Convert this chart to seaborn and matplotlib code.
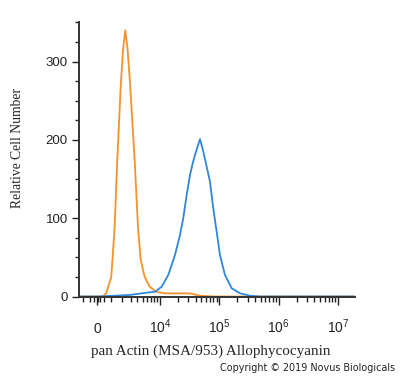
import numpy as np
import pandas as pd
import seaborn as sns
import matplotlib.pyplot as plt
from matplotlib.ticker import FixedLocator

# isotype control (orange) histogram
iso_x = [-1300, 0, 411, 645, 1020, 1297, 1523, 1680, 1844, 2078, 2328, 2584, 2940,
         3243, 3569, 4108, 4600, 5420, 6633, 8625, 12150, 32150, 47400, 84800, 1.9e7]
iso_y = [0, 0, 0, 4.5, 25, 89, 174, 220, 268, 314, 340, 318, 268,
         220, 174, 89, 47, 25, 12.5, 6, 4, 4, 1, 0, 0]

# pan Actin stained (blue) histogram
act_x = [-1300, 0, 1775, 2900, 5878, 8194, 10675, 13825, 17955, 21805, 24780, 28280,
         32150, 35700, 39040, 47390, 53235, 61460, 69840, 79380, 90560, 102900,
         124950, 162000, 223500, 329200, 485100, 1.9e7]
act_y = [0, 0, 1.3, 2, 4.9, 6.1, 12.5, 27.5, 53, 78.5, 100, 129.6,
         155, 170, 180.7, 201, 187, 165.8, 146.6, 112.6, 82.7, 53,
         27.5, 10.5, 4.1, 1, 0, 0]

x_major = [0, 1e4, 1e5, 1e6, 1e7]
x_labels = ['0', r'$\mathregular{10^4}$', r'$\mathregular{10^5}$',
            r'$\mathregular{10^6}$', r'$\mathregular{10^7}$']
y_major = [0, 100, 200, 300]

sns.set_style("ticks")
plt.rcParams['font.family'] = ['Liberation Sans', 'DejaVu Sans']

iso = pd.DataFrame({'x': iso_x, 'y': iso_y})
act = pd.DataFrame({'x': act_x, 'y': act_y})

fig = plt.figure(figsize=(4, 3.78), dpi=100)
ax = fig.add_axes([0.1975, 0.2156, 0.69, 0.727])

sns.lineplot(data=iso, x='x', y='y', color='#F5922F', lw=1.3, ax=ax, clip_on=False)
sns.lineplot(data=act, x='x', y='y', color='#2D88DB', lw=1.3, ax=ax, clip_on=False)

ax.set_xscale('asinh', linear_width=1750)
ax.set_xlim(-1320, 1.93e7)
ax.set_ylim(0, 351)

# minor ticks: near zero, linear part, then log decades
x_minor = [-1000, -500, -200, 100, 200, 500] + [k * 1000 for k in range(1, 10)]
for dec in [1e4, 1e5, 1e6]:
    x_minor += [k * dec for k in range(2, 10)]
ax.xaxis.set_major_locator(FixedLocator(x_major))
ax.xaxis.set_minor_locator(FixedLocator(x_minor))
ax.set_xticklabels(x_labels)
ax.yaxis.set_major_locator(FixedLocator(y_major))
ax.yaxis.set_minor_locator(FixedLocator(list(range(25, 351, 25))))

ax.tick_params(axis='x', which='major', length=6, width=1, pad=20.5, labelsize=10, colors='#222222')
ax.tick_params(axis='x', which='minor', length=3.5, width=1, color='#222222')
ax.tick_params(axis='y', which='major', length=5, width=1, pad=3, labelsize=9.5, colors='#222222')
ax.tick_params(axis='y', which='minor', length=3, width=1, color='#222222')
plt.setp(ax.get_xticklabels(), va='baseline')

sns.despine(ax=ax)
for s in ['left', 'bottom']:
    ax.spines[s].set_linewidth(1.4)
    ax.spines[s].set_color('#333333')

ax.set_xlabel('pan Actin (MSA/953) Allophycocyanin', family='Liberation Serif', fontsize=10.9)
ax.set_ylabel('Relative Cell Number', family='Liberation Serif', fontsize=9.8)
ax.xaxis.set_label_coords(0.478, -0.175)
ax.yaxis.set_label_coords(-0.2, 0.542)

fig.text(0.988, 0.026, 'Copyright \u00a9 2019 Novus Biologicals', ha='right', va='center',
         fontsize=6.9, family='DejaVu Sans', color='#222222')

fig.savefig('out.png', dpi=100)
